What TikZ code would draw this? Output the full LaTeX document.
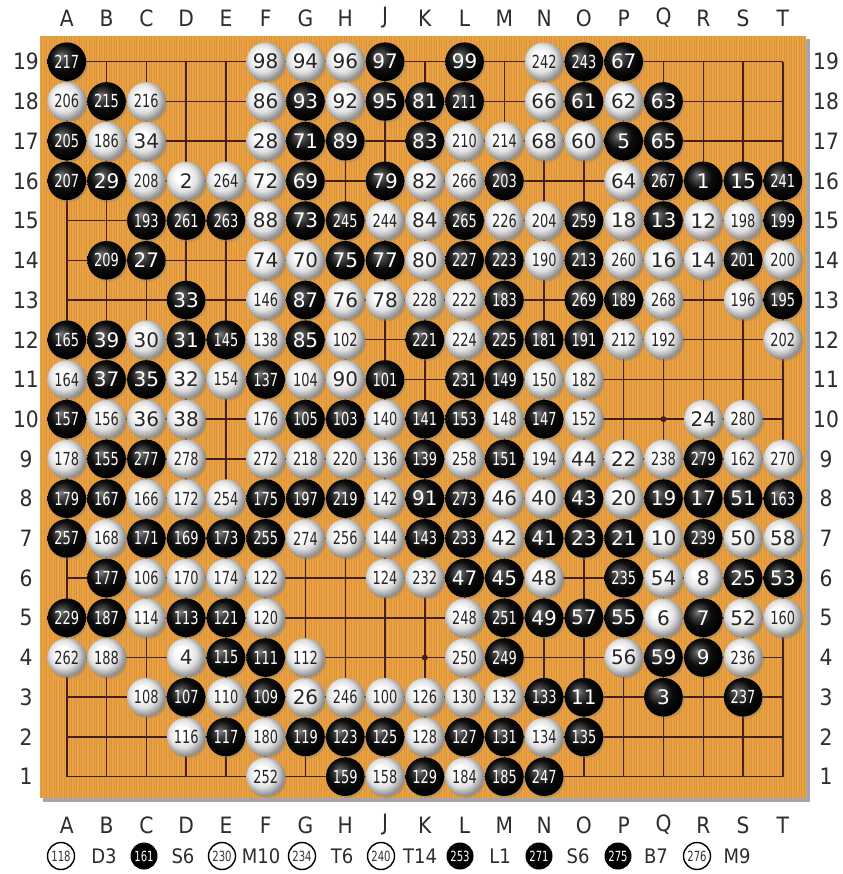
\documentclass[tikz,border=0pt]{standalone}
\usepackage{fontspec}
\setmainfont{DejaVu Sans}
\newfontfamily\narrowf[FakeStretch=0.72]{DejaVu Sans}
\newfontfamily\midf[FakeStretch=0.9]{DejaVu Sans}
\usetikzlibrary{shadows}
\definecolor{boardc}{RGB}{233,163,70}
\definecolor{stripec}{RGB}{210,134,42}
\definecolor{gridc}{RGB}{70,30,30}
\definecolor{labelc}{RGB}{45,45,45}
\pgfdeclareradialshading{wstone}{\pgfpoint{-7bp}{7bp}}{color(0bp)=(white); color(8bp)=(white); color(18bp)=(black!12); color(26bp)=(black!40); color(33bp)=(black!58); color(50bp)=(black!58)}
\pgfdeclareradialshading{bstone}{\pgfpoint{-8bp}{8bp}}{color(0bp)=(black!50); color(6bp)=(black!72); color(16bp)=(black!95); color(26bp)=(black); color(50bp)=(black)}
\def\colA{0}\def\colB{1}\def\colC{2}\def\colD{3}\def\colE{4}\def\colF{5}\def\colG{6}\def\colH{7}\def\colJ{8}\def\colK{9}
\def\colL{10}\def\colM{11}\def\colN{12}\def\colO{13}\def\colP{14}\def\colQ{15}\def\colR{16}\def\colS{17}\def\colT{18}
\tikzset{
  stone/.style={circle, minimum size=38.6pt, inner sep=0pt, outer sep=0pt, drop shadow={shadow xshift=1.5pt, shadow yshift=-2pt, opacity=0.4}},
  stonew/.style={stone, shade, shading=wstone, text=black!85},
  stoneb/.style={stone, shade, shading=bstone, text=white},
  gridline/.style={draw=gridc, line width=1.5pt},
  stripe/.style={draw=stripec, line width=0.9pt, opacity=0.5},
  coordlabel/.style={text=labelc, font=\midf\fontsize{22.5}{22.5}\selectfont, inner sep=0pt},
  legw/.style={circle, draw=black, line width=1.4pt, fill=white, minimum size=27pt, inner sep=0pt, font=\narrowf\fontsize{14}{14}\selectfont, text=black!80},
  legb/.style={circle, fill=black, minimum size=27pt, inner sep=0pt, font=\narrowf\fontsize{14}{14}\selectfont, text=white},
  legtext/.style={text=labelc, font=\midf\fontsize{20}{20}\selectfont, inner sep=0pt},
  hoshi/.style={circle, fill=gridc, minimum size=6pt, inner sep=0pt}
}
\begin{document}
\begin{tikzpicture}[x=1pt,y=-1pt]
\useasboundingbox (0,0) rectangle (842,874);
\fill[white] (0,0) rectangle (842,874);
% board
\fill[black!35] (43,39) rectangle (810,802);
\fill[boardc] (40,36) rectangle (806,798);
\foreach \x in {41.5,44,...,805} \draw[stripe] (\x,36) -- (\x,798);
% grid
\foreach \i in {0,...,18} {
  \draw[gridline] (66.8+39.78*\i,61.7) -- (66.8+39.78*\i,776.7);
  \draw[gridline] (66.8,61.7+39.72*\i) -- (782.8,61.7+39.72*\i);
}
\foreach \c/\r in {D/4,K/4,Q/4,D/10,K/10,Q/10,D/16,K/16,Q/16} {
  \pgfmathsetmacro\xx{66.8+39.78*\csname col\c\endcsname}
  \pgfmathsetmacro\yy{61.7+39.72*(19-\r)}
  \node[hoshi] (h\c\r) at (\xx,\yy) {};
}
% coordinate labels
\foreach \c in {A,B,C,D,E,F,G,H,J,K,L,M,N,O,P,Q,R,S,T} {
  \pgfmathsetmacro\xx{66.8+39.78*\csname col\c\endcsname}
  \node[coordlabel] (top\c) at (\xx,18) {\c};
  \node[coordlabel] (bot\c) at (\xx,825) {\c};
}
\foreach \r in {1,...,19} {
  \pgfmathsetmacro\yy{61.7+39.72*(19-\r)}
  \node[coordlabel] (lft\r) at (26,\yy) {\r};
  \node[coordlabel] (rgt\r) at (826,\yy) {\r};
}
% stones
\foreach \c/\r/\k/\n in {
A/19/b/217, F/19/w/98, G/19/w/94, H/19/w/96, J/19/b/97, L/19/b/99, N/19/w/242, O/19/b/243, P/19/b/67,
A/18/w/206, B/18/b/215, C/18/w/216, F/18/w/86, G/18/b/93, H/18/w/92, J/18/b/95, K/18/b/81, L/18/b/211, N/18/w/66, O/18/b/61, P/18/w/62, Q/18/b/63,
A/17/b/205, B/17/w/186, C/17/w/34, F/17/w/28, G/17/b/71, H/17/b/89, K/17/b/83, L/17/w/210, M/17/w/214, N/17/w/68, O/17/w/60, P/17/b/5, Q/17/b/65,
A/16/b/207, B/16/b/29, C/16/w/208, D/16/w/2, E/16/w/264, F/16/w/72, G/16/b/69, J/16/b/79, K/16/w/82, L/16/w/266, M/16/b/203, P/16/w/64, Q/16/b/267, R/16/b/1, S/16/b/15, T/16/b/241,
C/15/b/193, D/15/b/261, E/15/b/263, F/15/w/88, G/15/b/73, H/15/b/245, J/15/w/244, K/15/w/84, L/15/b/265, M/15/w/226, N/15/w/204, O/15/b/259, P/15/w/18, Q/15/b/13, R/15/w/12, S/15/w/198, T/15/b/199,
B/14/b/209, C/14/b/27, F/14/w/74, G/14/w/70, H/14/b/75, J/14/b/77, K/14/w/80, L/14/b/227, M/14/b/223, N/14/w/190, O/14/b/213, P/14/w/260, Q/14/w/16, R/14/w/14, S/14/b/201, T/14/w/200,
D/13/b/33, F/13/w/146, G/13/b/87, H/13/w/76, J/13/w/78, K/13/w/228, L/13/w/222, M/13/b/183, O/13/b/269, P/13/b/189, Q/13/w/268, S/13/w/196, T/13/b/195,
A/12/b/165, B/12/b/39, C/12/w/30, D/12/b/31, E/12/b/145, F/12/w/138, G/12/b/85, H/12/w/102, K/12/b/221, L/12/w/224, M/12/b/225, N/12/b/181, O/12/b/191, P/12/w/212, Q/12/w/192, T/12/w/202,
A/11/w/164, B/11/b/37, C/11/b/35, D/11/w/32, E/11/w/154, F/11/b/137, G/11/w/104, H/11/w/90, J/11/b/101, L/11/b/231, M/11/b/149, N/11/w/150, O/11/w/182,
A/10/b/157, B/10/w/156, C/10/w/36, D/10/w/38, F/10/w/176, G/10/b/105, H/10/b/103, J/10/w/140, K/10/b/141, L/10/b/153, M/10/w/148, N/10/b/147, O/10/w/152, R/10/w/24, S/10/w/280,
A/9/w/178, B/9/b/155, C/9/b/277, D/9/w/278, F/9/w/272, G/9/w/218, H/9/w/220, J/9/w/136, K/9/b/139, L/9/w/258, M/9/b/151, N/9/w/194, O/9/w/44, P/9/w/22, Q/9/w/238, R/9/b/279, S/9/w/162, T/9/w/270,
A/8/b/179, B/8/b/167, C/8/w/166, D/8/w/172, E/8/w/254, F/8/b/175, G/8/b/197, H/8/b/219, J/8/w/142, K/8/b/91, L/8/b/273, M/8/w/46, N/8/w/40, O/8/b/43, P/8/w/20, Q/8/b/19, R/8/b/17, S/8/b/51, T/8/b/163,
A/7/b/257, B/7/w/168, C/7/b/171, D/7/b/169, E/7/b/173, F/7/b/255, G/7/w/274, H/7/w/256, J/7/w/144, K/7/b/143, L/7/b/233, M/7/w/42, N/7/b/41, O/7/b/23, P/7/b/21, Q/7/w/10, R/7/b/239, S/7/w/50, T/7/w/58,
B/6/b/177, C/6/w/106, D/6/w/170, E/6/w/174, F/6/w/122, J/6/w/124, K/6/w/232, L/6/b/47, M/6/b/45, N/6/w/48, P/6/b/235, Q/6/w/54, R/6/w/8, S/6/b/25, T/6/b/53,
A/5/b/229, B/5/b/187, C/5/w/114, D/5/b/113, E/5/b/121, F/5/w/120, L/5/w/248, M/5/b/251, N/5/b/49, O/5/b/57, P/5/b/55, Q/5/w/6, R/5/b/7, S/5/w/52, T/5/w/160,
A/4/w/262, B/4/w/188, D/4/w/4, E/4/b/115, F/4/b/111, G/4/w/112, L/4/w/250, M/4/b/249, P/4/w/56, Q/4/b/59, R/4/b/9, S/4/w/236,
C/3/w/108, D/3/b/107, E/3/w/110, F/3/b/109, G/3/w/26, H/3/w/246, J/3/w/100, K/3/w/126, L/3/w/130, M/3/w/132, N/3/b/133, O/3/b/11, Q/3/b/3, S/3/b/237,
D/2/w/116, E/2/b/117, F/2/w/180, G/2/b/119, H/2/b/123, J/2/b/125, K/2/w/128, L/2/b/127, M/2/b/131, N/2/w/134, O/2/b/135,
F/1/w/252, H/1/b/159, J/1/w/158, K/1/b/129, L/1/w/184, M/1/b/185, N/1/b/247} {
  \pgfmathsetmacro\xx{66.8+39.78*\csname col\c\endcsname}
  \pgfmathsetmacro\yy{61.7+39.72*(19-\r)}
  \ifnum\n>99 \def\ff{\narrowf\fontsize{18}{18}\selectfont}\else\def\ff{\fontsize{20}{20}\selectfont}\fi
  \node[stone\k, font=\ff] (s\n) at (\xx,\yy) {\n};
}
% legend
\node[legw] (l118) at (61,856) {118};
\node[legtext] (t118) at (104,856) {D3};
\node[legb] (l161) at (144,856) {161};
\node[legtext] (t161) at (183,856) {S6};
\node[legw] (l230) at (222,856) {230};
\node[legtext] (t230) at (261,856) {M10};
\node[legw] (l234) at (302,856) {234};
\node[legtext] (t234) at (342,856) {T6};
\node[legw] (l240) at (381,856) {240};
\node[legtext] (t240) at (420,856) {T14};
\node[legb] (l253) at (460,856) {253};
\node[legtext] (t253) at (500,856) {L1};
\node[legb] (l271) at (539,856) {271};
\node[legtext] (t271) at (578,856) {S6};
\node[legb] (l275) at (618,856) {275};
\node[legtext] (t275) at (656,856) {B7};
\node[legw] (l276) at (697,856) {276};
\node[legtext] (t276) at (737,856) {M9};
\end{tikzpicture}
\end{document}
